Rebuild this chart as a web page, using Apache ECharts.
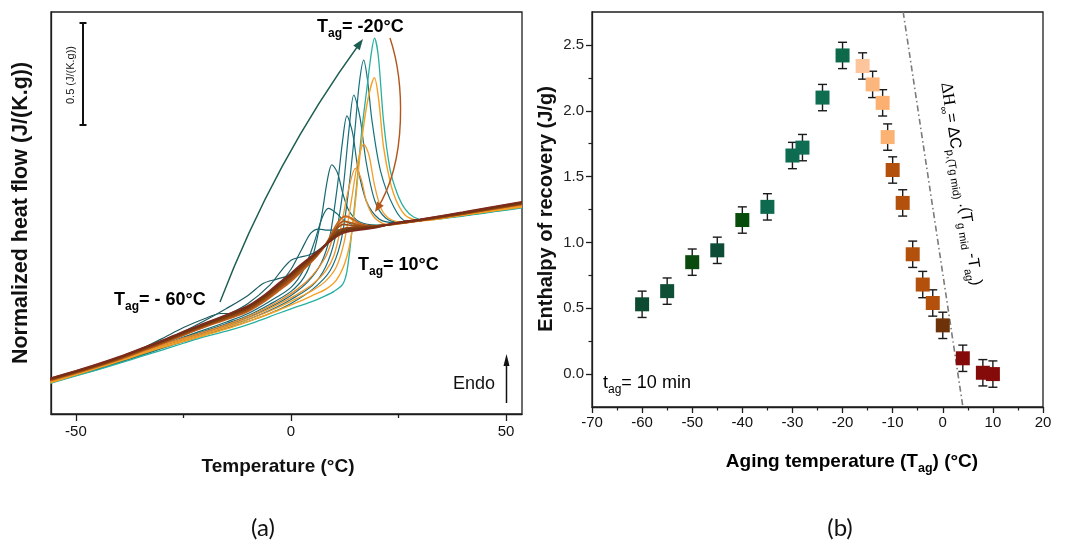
<!DOCTYPE html>
<html><head><meta charset="utf-8">
<script src="https://cdn.jsdelivr.net/npm/echarts@6/dist/echarts.min.js"></script>
<style>html,body{margin:0;padding:0;background:#fff;}#c{width:1068px;height:543px;}</style>
</head><body><div id="c"></div>
<script>
// ---------- Panel (a): DSC curves [temperature (°C), normalized heat flow (arb. offset, J/(K.g))] ----------
const dscTealA = [[-56,0.168],[-50,0.207],[-45,0.242],[-40,0.28],[-35,0.322],[-30,0.375],[-25,0.43],[-20,0.475],[-16.4,0.50],[-13,0.50],[-10,0.517],[-6,0.573],[-3,0.622],[0,0.672],[2,0.712],[4,0.75],[6,0.79],[8,0.838],[9.5,0.878],[11,0.908],[13,0.924],[16,0.93],[20,0.935],[25,0.948],[30,0.962],[40,0.995],[53.7,1.044]];
const dscTealB = [[-56,0.167],[-50,0.205],[-45,0.24],[-40,0.276],[-35,0.318],[-30,0.362],[-25,0.41],[-20,0.465],[-15,0.525],[-10,0.59],[-6.4,0.65],[-3.5,0.67],[-1,0.685],[1,0.705],[3,0.735],[5,0.772],[7,0.815],[9,0.865],[10.5,0.9],[12,0.92],[15,0.93],[20,0.935],[25,0.948],[30,0.962],[40,0.995],[53.7,1.044]];
const dscTealC = [[-56,0.166],[-50,0.204],[-45,0.238],[-40,0.273],[-35,0.313],[-30,0.352],[-25,0.395],[-20,0.44],[-15,0.49],[-10,0.55],[-5,0.64],[-2,0.72],[0,0.765],[2,0.78],[4,0.79],[6,0.81],[8,0.845],[9.5,0.88],[11,0.91],[13,0.925],[16,0.93],[20,0.935],[25,0.948],[30,0.962],[40,0.995],[53.7,1.043]];
const dscTealD = [[-56,0.165],[-50,0.203],[-45,0.236],[-40,0.271],[-35,0.31],[-30,0.349],[-25,0.392],[-20,0.434],[-15,0.474],[-10,0.52],[-6,0.58],[-3,0.64],[0,0.72],[2.5,0.82],[4.6,0.90],[6.5,0.92],[8.5,0.915],[10.5,0.915],[13,0.924],[16,0.93],[20,0.935],[25,0.948],[30,0.962],[40,0.994],[53.7,1.042]];
const dscTealE = [[-56,0.163],[-50,0.2],[-45,0.233],[-40,0.268],[-35,0.305],[-30,0.343],[-25,0.383],[-20,0.42],[-15,0.458],[-10,0.5],[-5,0.56],[0,0.63],[3,0.72],[5.5,0.86],[7.3,0.98],[8.7,1.023],[10.5,1.0],[12.5,0.96],[15,0.94],[20,0.937],[25,0.948],[30,0.962],[40,0.993],[53.7,1.04]];
const dscTealF = [[-56,0.161],[-50,0.198],[-45,0.23],[-40,0.265],[-35,0.301],[-30,0.338],[-25,0.377],[-20,0.413],[-15,0.45],[-10,0.49],[-5,0.545],[0,0.61],[3,0.68],[5,0.78],[7,0.97],[8.5,1.17],[9.5,1.24],[10.8,1.2],[12,1.10],[13.5,1.01],[16,0.955],[20,0.94],[25,0.948],[30,0.962],[40,0.992],[53.7,1.038]];
const dscTealG = [[-56,0.159],[-50,0.196],[-45,0.228],[-40,0.262],[-35,0.297],[-30,0.334],[-25,0.371],[-20,0.406],[-15,0.442],[-10,0.48],[-5,0.53],[0,0.59],[4,0.66],[7,0.75],[9,0.88],[10.7,1.12],[12,1.36],[13,1.483],[14.3,1.40],[15.5,1.23],[17.5,1.06],[20.5,0.97],[24,0.952],[30,0.962],[40,0.99],[53.7,1.035]];
const dscTealH = [[-56,0.157],[-50,0.194],[-45,0.225],[-40,0.258],[-35,0.293],[-30,0.33],[-25,0.365],[-20,0.4],[-15,0.435],[-10,0.47],[-5,0.515],[0,0.57],[5,0.64],[8,0.73],[10.2,0.87],[12,1.1],[13.5,1.42],[14.6,1.587],[16,1.48],[17.5,1.25],[19.5,1.06],[22,0.975],[25,0.955],[30,0.962],[40,0.988],[53.7,1.032]];
const dscTealI = [[-56,0.155],[-50,0.192],[-45,0.222],[-40,0.255],[-35,0.29],[-30,0.326],[-25,0.36],[-20,0.393],[-15,0.427],[-10,0.46],[-5,0.5],[0,0.55],[5,0.62],[9,0.71],[11.5,0.85],[13.2,1.08],[14.8,1.40],[15.9,1.65],[16.9,1.761],[17.8,1.66],[18.8,1.463],[20.8,1.21],[23.9,1.03],[26.8,0.96],[30,0.962],[40,0.987],[53.7,1.028]];
const dscTealJ = [[-56,0.152],[-50,0.19],[-45,0.22],[-40,0.252],[-35,0.285],[-30,0.318],[-25,0.352],[-20,0.385],[-14,0.418],[-8,0.46],[-3,0.5],[1.4,0.534],[5,0.56],[7.6,0.584],[10,0.61],[12,0.645],[13,0.71],[14,0.88],[15.3,1.15],[16.5,1.42],[17.7,1.63],[18.7,1.8],[19.4,1.87],[20.3,1.78],[21.5,1.46],[23,1.22],[24.65,1.10],[26.5,1.02],[28.5,0.98],[31,0.965],[40,0.985],[53.7,1.025]];
const dscOrangeA = [[-56,0.155],[-50,0.195],[-45,0.228],[-40,0.262],[-30,0.33],[-20,0.392],[-14,0.43],[-8,0.475],[-3,0.515],[1.4,0.555],[5,0.59],[8,0.62],[10.5,0.665],[12.5,0.75],[13.8,0.86],[14.8,1.02],[16.1,1.30],[17.7,1.546],[19.4,1.673],[20.4,1.56],[21.5,1.33],[23,1.16],[24.5,1.06],[26.5,0.99],[28.5,0.968],[31,0.963],[40,0.99],[53.7,1.03]];
const dscOrangeB = [[-56,0.157],[-50,0.198],[-45,0.231],[-40,0.265],[-30,0.335],[-20,0.398],[-14,0.438],[-8,0.485],[-3,0.53],[1.4,0.575],[5,0.615],[8,0.66],[10.5,0.73],[12.3,0.85],[13.8,1.03],[15.4,1.24],[16.9,1.343],[18.1,1.29],[19.4,1.14],[21,1.02],[23,0.97],[26,0.955],[30,0.962],[40,0.99],[53.7,1.032]];
const dscOrangeC = [[-56,0.159],[-50,0.2],[-45,0.234],[-40,0.268],[-30,0.34],[-20,0.403],[-14,0.445],[-8,0.495],[-3,0.545],[1.4,0.595],[5,0.645],[8,0.71],[10,0.79],[11.7,0.94],[13.4,1.12],[15,1.222],[16.3,1.17],[17.5,1.06],[19.3,0.98],[22,0.945],[26,0.95],[30,0.962],[40,0.99],[53.7,1.034]];
const dscOrangeD = [[-56,0.161],[-50,0.202],[-45,0.236],[-40,0.271],[-30,0.344],[-20,0.41],[-14,0.452],[-8,0.505],[-3,0.56],[1.4,0.62],[5,0.69],[8,0.78],[10,0.89],[11.8,0.975],[13.2,0.98],[14.8,0.955],[17,0.937],[21,0.937],[30,0.962],[40,0.993],[53.7,1.038]];
const dscBrownA = [[-56,0.166],[-50,0.203],[-45,0.236],[-40,0.27],[-35,0.31],[-30,0.349],[-25,0.392],[-20,0.433],[-15,0.47],[-10,0.51],[-6,0.562],[-3,0.61],[0,0.66],[2,0.70],[4,0.74],[6,0.785],[8,0.84],[9.7,0.91],[11.3,0.965],[12.8,0.985],[14.2,0.972],[16,0.948],[19,0.935],[25,0.947],[30,0.961],[40,0.994],[53.7,1.043]];
const dscBrownB = [[-56,0.168],[-50,0.205],[-45,0.238],[-40,0.273],[-35,0.313],[-30,0.352],[-25,0.395],[-20,0.437],[-15,0.474],[-10,0.515],[-6,0.568],[-3,0.617],[0,0.667],[2,0.707],[4,0.745],[6,0.788],[8,0.84],[9.6,0.895],[11,0.94],[12.2,0.958],[13.8,0.952],[16,0.94],[20,0.936],[25,0.948],[30,0.962],[40,0.995],[53.7,1.044]];
const dscBrownC = [[-56,0.17],[-50,0.207],[-45,0.24],[-40,0.275],[-35,0.315],[-30,0.355],[-25,0.398],[-20,0.44],[-15,0.478],[-10,0.52],[-6,0.575],[-3,0.625],[0,0.675],[2,0.715],[4,0.752],[6,0.792],[8,0.842],[9.5,0.888],[11,0.93],[12.2,0.943],[14,0.938],[17,0.932],[21,0.937],[25,0.949],[30,0.963],[40,0.996],[53.7,1.046]];
const dscBrownD = [[-56,0.172],[-50,0.209],[-45,0.242],[-40,0.278],[-35,0.318],[-30,0.358],[-25,0.401],[-20,0.443],[-15,0.482],[-10,0.525],[-6,0.58],[-3,0.632],[0,0.683],[2,0.722],[4,0.758],[6,0.797],[8,0.843],[9.5,0.882],[11,0.912],[13,0.926],[16,0.93],[20,0.936],[25,0.95],[30,0.964],[40,0.998],[53.7,1.048]];
const dscBrownE = [[-56,0.174],[-50,0.211],[-45,0.244],[-40,0.28],[-35,0.32],[-30,0.361],[-25,0.404],[-20,0.446],[-15,0.486],[-10,0.53],[-6,0.585],[-3,0.638],[0,0.69],[2,0.728],[4,0.764],[6,0.8],[8,0.842],[9.5,0.875],[11,0.902],[13,0.918],[16,0.925],[20,0.933],[25,0.951],[30,0.966],[40,1.0],[53.7,1.05]];
const dscBrownF = [[-56,0.176],[-50,0.213],[-45,0.246],[-40,0.282],[-35,0.322],[-30,0.363],[-25,0.407],[-20,0.449],[-15,0.49],[-10,0.534],[-6,0.59],[-3,0.643],[0,0.695],[2,0.733],[4,0.768],[6,0.803],[8,0.84],[9.5,0.87],[11,0.895],[13,0.912],[16,0.92],[20,0.93],[25,0.952],[30,0.967],[40,1.002],[53.7,1.053]];
const dscBrownG = [[-56,0.178],[-50,0.215],[-45,0.248],[-40,0.284],[-35,0.324],[-30,0.365],[-25,0.41],[-20,0.452],[-15,0.494],[-10,0.538],[-6,0.595],[-3,0.648],[0,0.7],[2,0.738],[4,0.772],[6,0.806],[8,0.838],[9.5,0.865],[11,0.888],[13,0.906],[16,0.916],[20,0.928],[25,0.953],[30,0.968],[40,1.004],[53.7,1.056]];

const dscCurves = [dscTealA,dscTealB,dscTealC,dscTealD,dscTealE,dscTealF,dscTealG,dscTealH,dscTealI,dscTealJ,
  dscOrangeD,dscOrangeC,dscOrangeB,dscOrangeA,
  dscBrownA,dscBrownB,dscBrownC,dscBrownD,dscBrownE,dscBrownF,dscBrownG];
const dscColors = ['#1d5b5f','#1d5d64','#1b6068','#1a636c','#19666f','#186872','#176b76','#166e79','#15737e','#27b09f',
  '#e8892a','#ee9530','#f29c2a','#f6a024',
  '#c4661f','#b0581a','#9a4a14','#8a4012','#7a3a10','#6b3410','#7e2a1c'];
const dscWidths = [1.2,1.2,1.2,1.2,1.2,1.2,1.2,1.2,1.2,1.3, 1.3,1.3,1.3,1.4, 1.7,1.7,1.7,1.7,1.7,1.7,1.7];

const xTicksA = [-50, 0, 50];
const xMinorTicksA = [-25, 25];

// ---------- Panel (b): enthalpy of recovery ----------
const agingTemps = [-60,-55,-50,-45,-40,-35,-30,-28,-24,-20,-16,-14,-12,-11,-10,-8,-6,-4,-2,0,4,8,10];
const enthalpy   = [0.53,0.63,0.85,0.94,1.17,1.27,1.66,1.72,2.10,2.42,2.34,2.20,2.06,1.80,1.55,1.30,0.91,0.68,0.54,0.37,0.12,0.01,0.00];
const enthalpyErr = [0.1,0.1,0.1,0.1,0.1,0.1,0.1,0.1,0.1,0.1,0.1,0.1,0.1,0.1,0.1,0.1,0.1,0.1,0.1,0.1,0.1,0.1,0.1];
const pointColors = ['#0d4a32','#0e4f36','#0b4a0e','#0e4c38','#074c0a','#0d6a4e','#0d6b50','#0e6d52','#0e6e4f','#0c6a4a',
  '#fcc59b','#fbb67e','#fbb071','#fbb374','#b3500b','#b3500b','#b3500b','#b3500b','#b3500b','#6e3208','#850b0b','#850b0b','#850b0b'];
const limitLineT = [-7.9, 4.0];
const limitLineH = [2.75, -0.245];
const yTicksB = [0, 0.5, 1.0, 1.5, 2.0, 2.5];
const yMinorTicksB = [0.25, 0.75, 1.25, 1.75, 2.25];

const FONT = 'Liberation Sans, Arial, sans-serif';
const AX = '#1e1e1e';

const series = [];
dscCurves.forEach((c, i) => {
  series.push({type:'line', xAxisIndex:0, yAxisIndex:0, data:c, showSymbol:false, symbol:'none',
    smooth:0.3, lineStyle:{color:dscColors[i], width:dscWidths[i]}, z:2, silent:true});
});
series.push({type:'line', xAxisIndex:2, yAxisIndex:1, data:limitLineT.map((t,i)=>[t, limitLineH[i]]), symbol:'none',
  lineStyle:{color:'#7a7a7a', width:1.6, type:[6,3,1.5,3]}, silent:true});
series.push({type:'custom', xAxisIndex:2, yAxisIndex:1, encode:{x:0, y:[1,2]},
  data: agingTemps.map((t,i)=>[t, enthalpy[i]-enthalpyErr[i], enthalpy[i]+enthalpyErr[i]]),
  renderItem: function(params, api){
    const x = api.value(0), lo = api.value(1), hi = api.value(2);
    const a = api.coord([x, hi]), b = api.coord([x, lo]);
    const w = 4.5, st = {stroke:'#1a1a1a', lineWidth:1.4};
    return {type:'group', children:[
      {type:'line', shape:{x1:a[0],y1:a[1],x2:b[0],y2:b[1]}, style:st},
      {type:'line', shape:{x1:a[0]-w,y1:a[1],x2:a[0]+w,y2:a[1]}, style:st},
      {type:'line', shape:{x1:b[0]-w,y1:b[1],x2:b[0]+w,y2:b[1]}, style:st}]};
  }, z:3});
series.push({type:'scatter', xAxisIndex:2, yAxisIndex:1, symbol:'rect', symbolSize:14, z:4,
  data: agingTemps.map((t,i)=>({value:[t, enthalpy[i]], itemStyle:{color:pointColors[i], opacity:1}}))});

function arrowHead(tip, from, len, halfW, color){
  const dx = tip[0]-from[0], dy = tip[1]-from[1], L = Math.hypot(dx,dy), ux = dx/L, uy = dy/L;
  const bx = tip[0]-ux*len, by = tip[1]-uy*len;
  return {type:'polygon', z:100, shape:{points:[tip,[bx-uy*halfW, by+ux*halfW],[bx+uy*halfW, by-ux*halfW]]}, style:{fill:color}};
}
function sub(col, size){ return {fontFamily:FONT, fontWeight:'bold', fontSize:size, color:col, lineHeight:size, verticalAlign:'bottom'}; }
function main(col, size, lh){ return {fontFamily:FONT, fontWeight:'bold', fontSize:size, color:col, lineHeight:lh}; }

const graphic = [
  {type:'text', x:278, y:467, z:100, style:{text:'Temperature (°C)', font:'bold 19px '+FONT, fill:'#111', align:'center', verticalAlign:'middle'}},
  {type:'text', x:21, y:213, rotation:Math.PI/2, z:100, style:{text:'Normalized heat flow (J/(K.g))', font:'bold 21.5px '+FONT, fill:'#111', align:'center', verticalAlign:'middle'}},
  {type:'text', x:546, y:209, rotation:Math.PI/2, z:100, style:{text:'Enthalpy of recovery (J/g)', font:'bold 20px '+FONT, fill:'#111', align:'center', verticalAlign:'middle'}},
  {type:'text', x:852, y:462, z:100, style:{text:'{m|Aging temperature (T}{s|ag}{m|) (°C)}', align:'center', verticalAlign:'middle',
    rich:{m:main('#111',19,27), s:sub('#111',12.5)}}},
  {type:'text', x:263, y:528, z:100, style:{text:'(a)', font:'24px Lato, "Open Sans", sans-serif', fill:'#111', align:'center', verticalAlign:'middle'}},
  {type:'text', x:840, y:528, z:100, style:{text:'(b)', font:'24px Lato, "Open Sans", sans-serif', fill:'#111', align:'center', verticalAlign:'middle'}},
  {type:'text', x:317, y:27, z:100, style:{text:'{m|T}{s|ag}{m|= -20°C}', align:'left', verticalAlign:'middle',
    rich:{m:main('#3a8a1f',18,26), s:sub('#3a8a1f',12)}}},
  {type:'text', x:114, y:300, z:100, style:{text:'{m|T}{s|ag}{m|= - 60°C}', align:'left', verticalAlign:'middle',
    rich:{m:main('#175c4b',18,26), s:sub('#175c4b',12)}}},
  {type:'text', x:358, y:265, z:100, style:{text:'{m|T}{s|ag}{m|= 10°C}', align:'left', verticalAlign:'middle',
    rich:{m:main('#7b1416',18,26), s:sub('#7b1416',12)}}},
  {type:'text', x:453, y:384, z:100, style:{text:'Endo', font:'18px '+FONT, fill:'#111', align:'left', verticalAlign:'middle'}},
  {type:'line', z:100, shape:{x1:506.5,y1:403,x2:506.5,y2:362}, style:{stroke:'#111', lineWidth:1.5}},
  arrowHead([506.5,354],[506.5,403],12,3,'#111'),
  {type:'line', z:100, shape:{x1:83,y1:23,x2:83,y2:125}, style:{stroke:'#111', lineWidth:2}},
  {type:'line', z:100, shape:{x1:79.5,y1:23,x2:86.5,y2:23}, style:{stroke:'#111', lineWidth:2}},
  {type:'line', z:100, shape:{x1:79.5,y1:125,x2:86.5,y2:125}, style:{stroke:'#111', lineWidth:2}},
  {type:'text', x:71, y:75, rotation:Math.PI/2, z:100, style:{text:'0.5 (J/(K.g))', font:'11px '+FONT, fill:'#111', align:'center', verticalAlign:'middle'}},
  {type:'bezierCurve', z:100, shape:{x1:220,y1:302,x2:360,y2:43,cpx1:274,cpy1:161}, style:{stroke:'#1c5e52', lineWidth:1.4, fill:null}},
  arrowHead([363,39],[274,161],11,4,'#1c5e52'),
  {type:'bezierCurve', z:100, shape:{x1:390,y1:38,x2:377,y2:209,cpx1:404,cpy1:80,cpx2:408,cpy2:160}, style:{stroke:'#b4561c', lineWidth:1.4, fill:null}},
  arrowHead([375,212],[408,160],10,4,'#b4561c'),
  {type:'text', x:603, y:383, z:100, style:{text:'{m|t}{s|ag}{m|= 10 min}', align:'left', verticalAlign:'middle',
    rich:{m:{fontFamily:FONT, fontSize:18, color:'#111', lineHeight:26}, s:{fontFamily:FONT, fontSize:12, color:'#111', lineHeight:12, verticalAlign:'bottom'}}}},
  {type:'text', x:961, y:184, rotation:-1.42, z:100, style:{
    text:'{h|ΔH}{s|∞}{m|= ΔC}{s|p,(Tg mid)}{m| .(T}{s|g mid}{m| -T}{s|ag}{m|)}', align:'center', verticalAlign:'middle',
    rich:{h:{fontFamily:'Liberation Serif, serif', fontSize:17, color:'#111', lineHeight:24},
          m:{fontFamily:FONT, fontSize:16, color:'#111', lineHeight:24},
          s:{fontFamily:FONT, fontSize:11, color:'#111', lineHeight:11, verticalAlign:'bottom'}}}}
];

const option = {
  animation:false,
  backgroundColor:'#fff',
  grid:[
    {left:51, top:12, width:471, height:402, show:true, borderColor:AX, borderWidth:1.3},
    {left:592, top:12, width:451, height:395, show:true, borderColor:AX, borderWidth:1.3}
  ],
  xAxis:[
    {gridIndex:0, type:'value', position:'bottom', min:-55.8, max:53.7,
      axisLine:{onZero:false, lineStyle:{color:AX, width:1.3}},
      axisTick:{customValues:xTicksA, length:7, lineStyle:{color:AX, width:1.3}},
      axisLabel:{customValues:xTicksA, fontSize:15, color:'#111', margin:10, fontFamily:FONT},
      splitLine:{show:false}},
    {gridIndex:0, type:'value', position:'bottom', min:-55.8, max:53.7,
      axisLine:{show:false, onZero:false},
      axisTick:{customValues:xMinorTicksA, length:4, lineStyle:{color:AX, width:1.3}},
      axisLabel:{show:false}, splitLine:{show:false}},
    {gridIndex:1, type:'value', position:'bottom', min:-70, max:20, interval:10,
      axisLine:{onZero:false, lineStyle:{color:AX, width:1.3}},
      axisTick:{length:6, lineStyle:{color:AX, width:1.3}},
      minorTick:{show:true, splitNumber:2, length:3.5, lineStyle:{color:AX, width:1.2}},
      axisLabel:{fontSize:15, color:'#111', margin:8, fontFamily:FONT},
      splitLine:{show:false}}
  ],
  yAxis:[
    {gridIndex:0, type:'value', position:'left', min:0, max:2, axisLine:{onZero:false, lineStyle:{color:AX, width:1.3}},
      axisTick:{show:false}, axisLabel:{show:false}, splitLine:{show:false}},
    {gridIndex:1, type:'value', position:'left', min:-0.25, max:2.75,
      axisLine:{onZero:false, lineStyle:{color:AX, width:1.3}},
      axisTick:{customValues:yTicksB, length:6, lineStyle:{color:AX, width:1.3}},
      axisLabel:{customValues:yTicksB, fontSize:15, color:'#222', margin:8, fontFamily:FONT, formatter:v=>Number(v).toFixed(1)},
      splitLine:{show:false}},
    {gridIndex:1, type:'value', position:'left', min:-0.25, max:2.75,
      axisLine:{show:false, onZero:false},
      axisTick:{customValues:yMinorTicksB, length:3.5, lineStyle:{color:AX, width:1.2}},
      axisLabel:{show:false}, splitLine:{show:false}}
  ],
  series: series,
  graphic: graphic
};
const chart = echarts.init(document.getElementById('c'));
chart.setOption(option);
</script>
</body></html>
